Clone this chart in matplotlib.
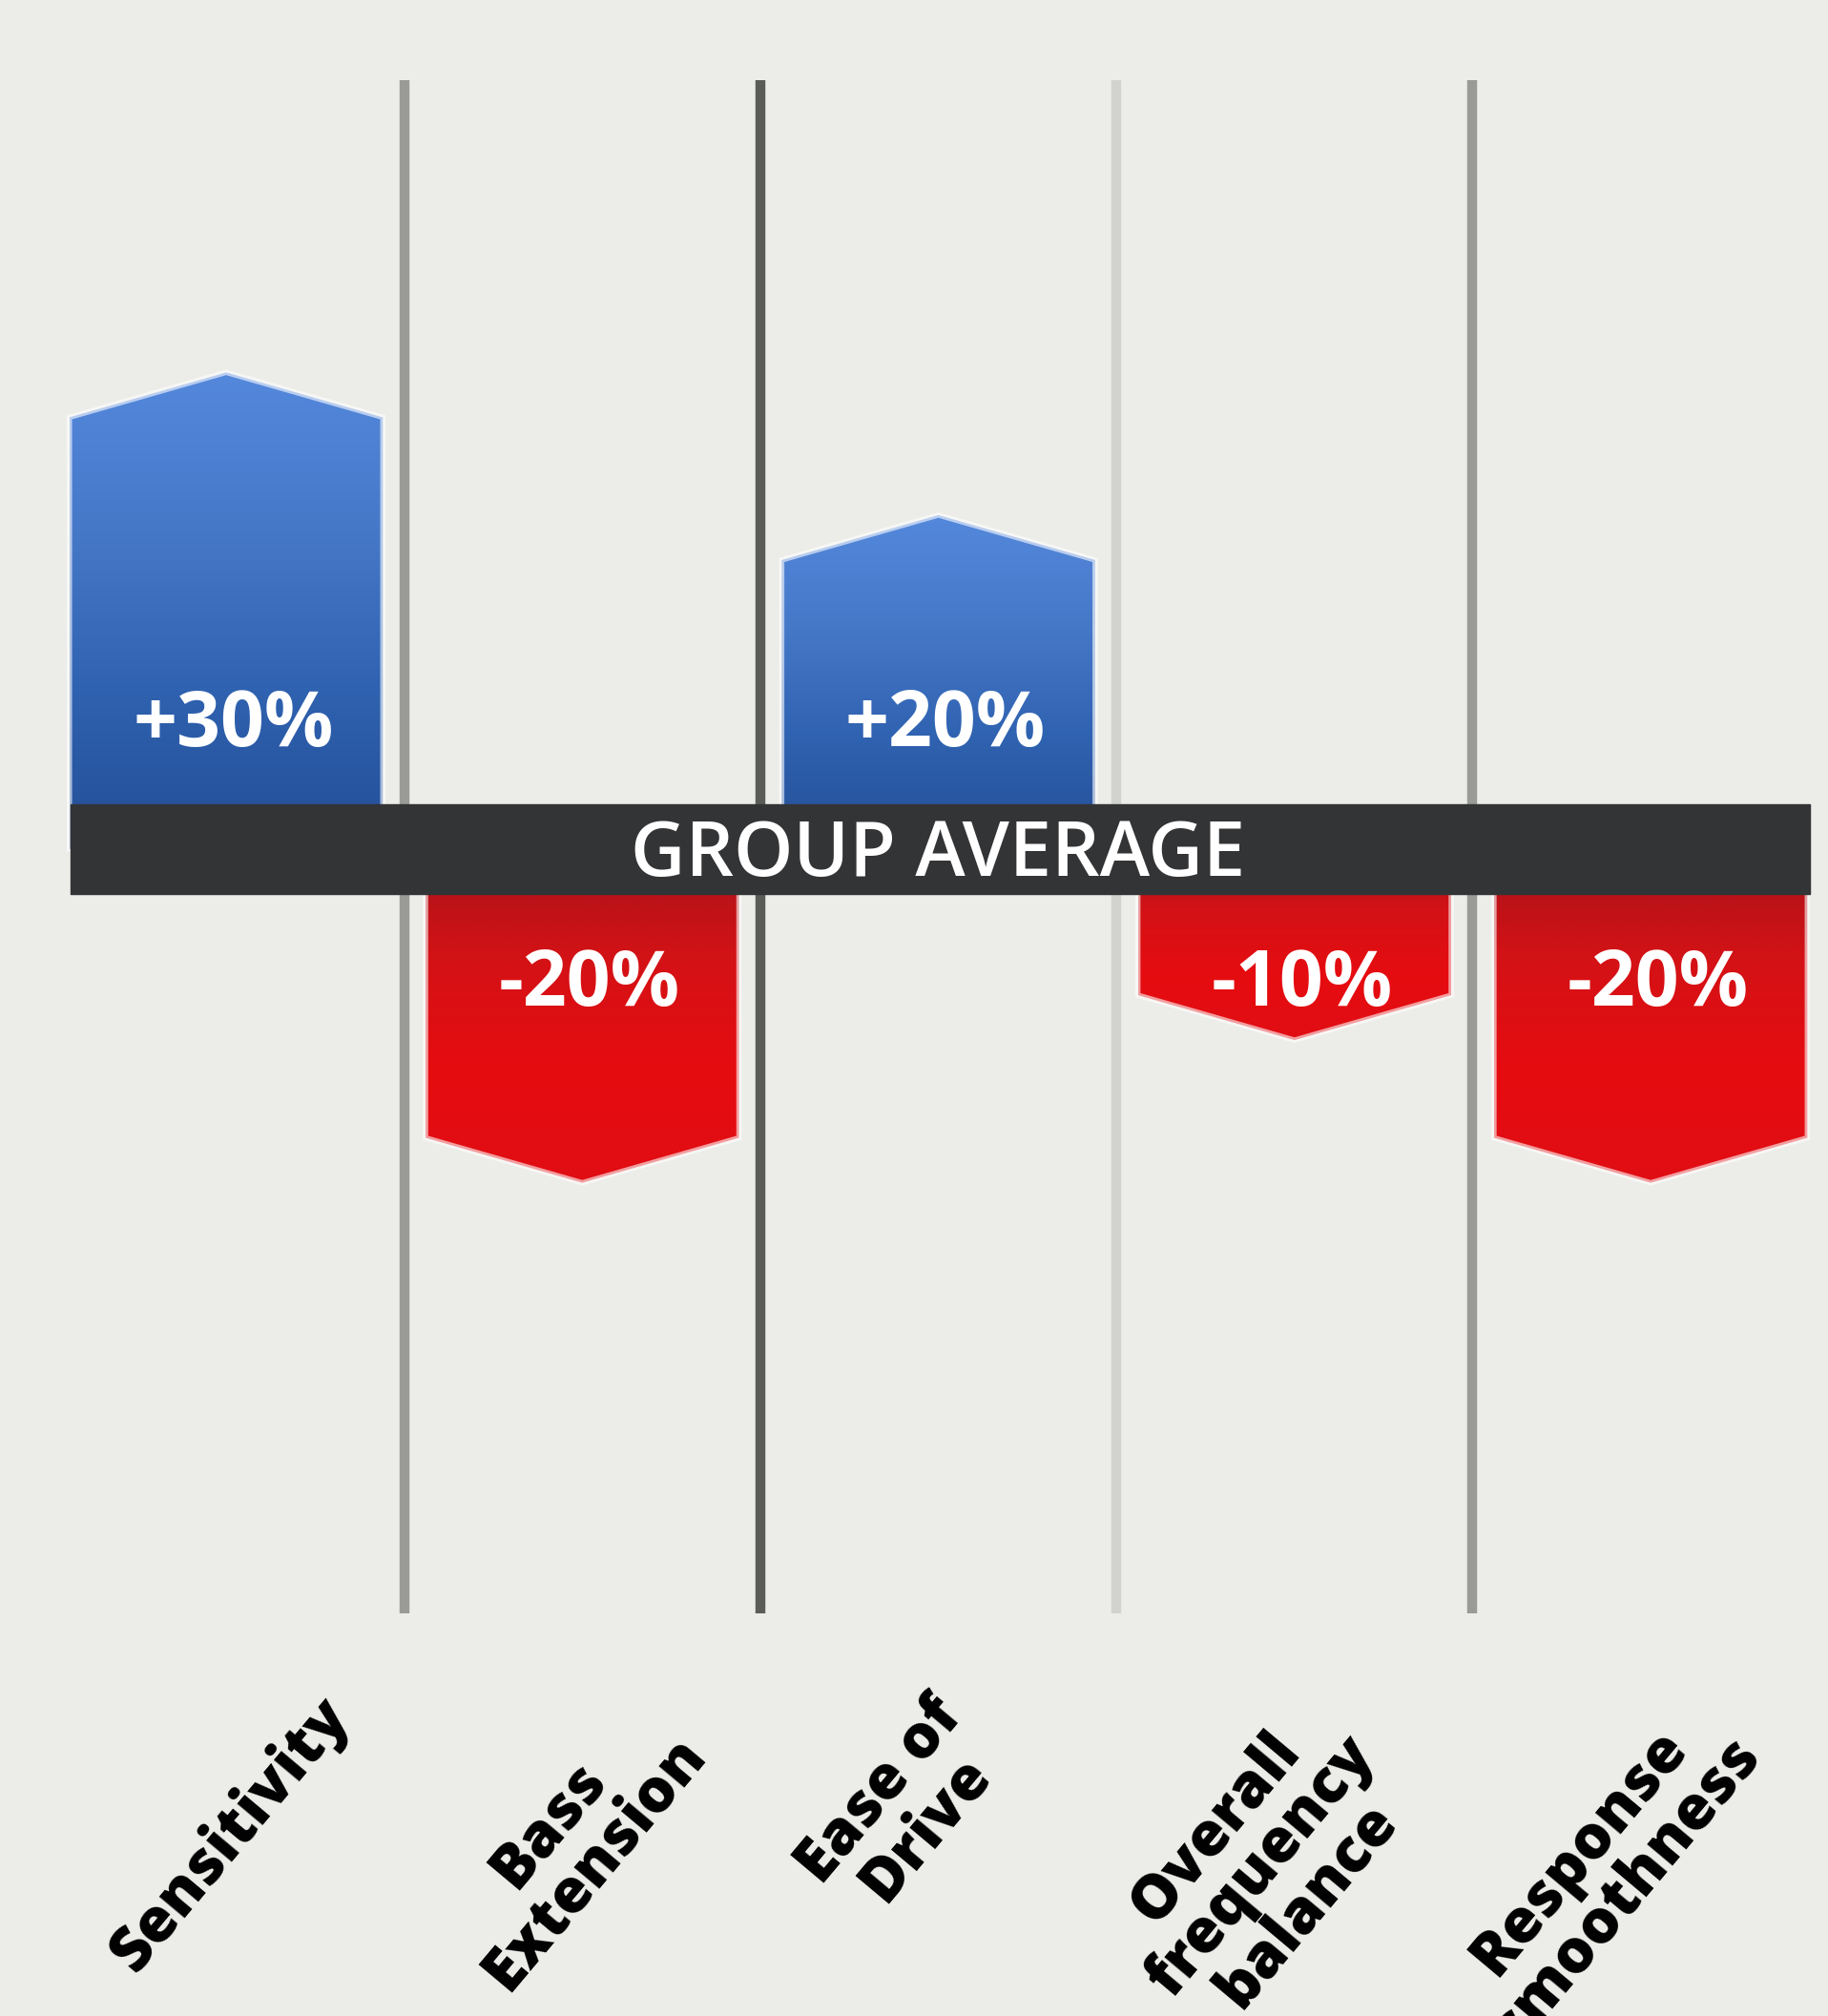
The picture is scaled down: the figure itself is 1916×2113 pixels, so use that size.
import numpy as np
import matplotlib.pyplot as plt
from matplotlib.patches import Polygon
from matplotlib.colors import LinearSegmentedColormap

categories = ["Sensitivity", "Bass\nExtension", "Ease of\nDrive",
              "Overall\nfrequency\nbalance", "Response\nsmoothness"]
values = [30, -20, 20, -10, -20]
value_labels = ["+30%", "-20%", "+20%", "-10%", "-20%"]
sep_colors = ["#9a9b96", "#5a5c58", "#d2d3ce", "#9a9b96"]
label_dx = [0.25, 0.12, -0.03, 0.0, 0.08]   # nudges of the slanted labels

bg = "#ecece8"
band_color = "#333436"

fig = plt.figure(figsize=(19.16, 21.13), dpi=100, facecolor=bg)
ax = fig.add_axes([0, 0, 1, 1])
ax.set_facecolor(bg)
ax.set_xlim(-0.635, 4.498)
ax.set_ylim(-81.8, 59.5)
ax.axis("off")

w = 0.88      # bar width
off = 3.4     # tip offset past value (band half height)
cap = 3.15    # height of the pointed cap
band = 3.15

x = np.arange(len(categories))

# separators
for i, c in enumerate(sep_colors):
    ax.plot([i + 0.5, i + 0.5], [-53.6, 53.9], color=c, lw=7.5,
            solid_capstyle="butt", zorder=1)

blue = LinearSegmentedColormap.from_list(
    "b", ["#244e96", "#2f62b0", "#4678c8", "#5488dc"])
red = LinearSegmentedColormap.from_list(
    "r", ["#a8121a", "#d41216", "#e60c10", "#e00e14"])

for xi, v in zip(x, values):
    s = np.sign(v)
    tip = v + s * off
    side = tip - s * cap
    pts = [(xi - w / 2, 0), (xi - w / 2, side), (xi, tip),
           (xi + w / 2, side), (xi + w / 2, 0)]
    poly = Polygon(pts, closed=True, facecolor="none",
                   edgecolor="#ffffff", lw=4, alpha=0.6, zorder=3)
    ax.add_patch(poly)
    grad = np.linspace(0, 1, 256).reshape(-1, 1)
    if v > 0:
        im = ax.imshow(grad, cmap=blue, aspect="auto", origin="lower",
                       extent=[xi - w / 2, xi + w / 2, 0, tip], zorder=2)
    else:
        im = ax.imshow(grad[::-1], cmap=red, aspect="auto", origin="lower",
                       extent=[xi - w / 2, xi + w / 2, tip, 0], zorder=2)
    im.set_clip_path(poly)

# value labels
for xi, v, lab in zip(x, values, value_labels):
    ypos = 8.6 if v > 0 else -9.6
    ax.text(xi + 0.02, ypos, lab, color="white", fontsize=58,
            fontweight="bold", family="Open Sans", ha="center", va="center",
            zorder=5)

# group average band
ax.fill_between([-0.437, 4.448], -band, band, color=band_color, zorder=4)
ax.text(2.0, -0.5, "GROUP AVERAGE", color="white", fontsize=57,
        fontweight="semibold", family="Open Sans", ha="center", va="center",
        zorder=5)

# category labels
for xi, dx, lab in zip(x, label_dx, categories):
    ax.text(xi + dx, -58.7, lab, rotation=50, rotation_mode="anchor",
            ha="right", va="top", multialignment="center",
            fontsize=46, fontweight="heavy", family="Open Sans",
            linespacing=0.98, color="black")

fig.savefig("out.png", dpi=100, facecolor=bg)
